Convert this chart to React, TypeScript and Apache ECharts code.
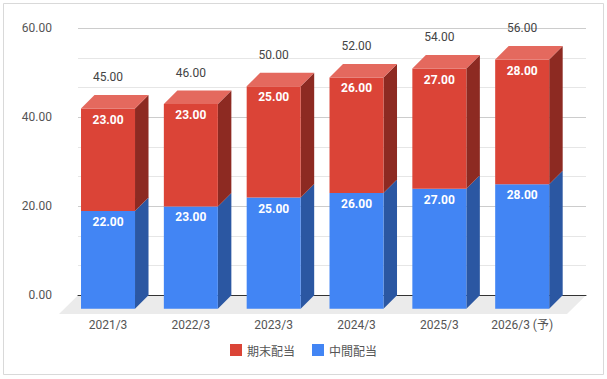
import React, { useEffect, useRef } from "react";
import * as echarts from "echarts";

const categories = ["2021/3", "2022/3", "2023/3", "2024/3", "2025/3", "2026/3 (予)"];
const interim = [22, 23, 25, 26, 27, 28]; // 中間配当
const yearEnd = [23, 23, 25, 26, 27, 28]; // 期末配当
const totals = [45, 46, 50, 52, 54, 56];
const yTicks = [0, 20, 40, 60];

const D = 13.5; // 3D depth offset
const BAR_RATIO = 0.652;

function makeRender(colors: { front: string; side: string; top: string }, showTop: boolean, showTotal: boolean) {
  return (params: any, api: any) => {
    const i = api.value(0);
    const lo = api.value(1);
    const hi = api.value(2);
    const pLo = api.coord([i, lo]);
    const pHi = api.coord([i, hi]);
    const band = api.size([1, 0])[0];
    const w = band * BAR_RATIO;
    const x = pLo[0] - w / 2;
    const yb = pLo[1];
    const yt = pHi[1];
    const children: any[] = [
      {
        type: "polygon",
        shape: { points: [[x + w, yt], [x + w + D, yt - D], [x + w + D, yb - D], [x + w, yb]] },
        style: { fill: colors.side },
      },
      {
        type: "rect",
        shape: { x, y: yt, width: w, height: yb - yt },
        style: { fill: colors.front },
      },
    ];
    if (showTop) {
      children.push({
        type: "polygon",
        shape: { points: [[x, yt], [x + w, yt], [x + w + D, yt - D], [x + D, yt - D]] },
        style: { fill: colors.top },
      });
    }
    children.push({
      type: "text",
      style: {
        text: (hi - lo).toFixed(2),
        x: pLo[0],
        y: yt + 11,
        align: "center",
        verticalAlign: "middle",
        fill: "#ffffff",
        font: "bold 12px Roboto",
      },
    });
    if (showTotal) {
      children.push({
        type: "text",
        style: {
          text: api.value(3).toFixed(2),
          x: pLo[0],
          y: yt - 31.5,
          align: "center",
          verticalAlign: "middle",
          fill: "#444444",
          font: "12px Roboto",
        },
      });
    }
    return { type: "group", children };
  };
}

export default function App() {
  const ref = useRef<HTMLDivElement>(null);
  useEffect(() => {
    const chart = echarts.init(ref.current!, null, { renderer: "svg" });
    const blueData = categories.map((_, i) => [i, 0, interim[i]]);
    const redData = categories.map((_, i) => [i, interim[i], interim[i] + yearEnd[i], totals[i]]);
    chart.setOption({
      animation: false,
      backgroundColor: "#ffffff",
      textStyle: { fontFamily: "Roboto" },
      grid: [
        { left: 78, right: 21, top: 28.3, bottom: 83.7 },
        { left: 66.6, right: 43.4, top: 41.8, bottom: 70.2 },
      ],
      graphic: [
        {
          type: "rect",
          shape: { x: 3.5, y: 3.5, width: 600, height: 371 },
          style: { fill: "none", stroke: "#d9d9d9", lineWidth: 1 },
          z: 0,
        },
        {
          type: "polygon",
          shape: { points: [[78, 295.3], [586, 295.3], [567, 314], [59, 314]] },
          style: { fill: "#ebebeb" },
          z: 0,
          silent: true,
        },
      ],
      legend: {
        data: [
          { name: "期末配当", icon: "rect" },
          { name: "中間配当", icon: "rect" },
        ],
        left: "center",
        top: 339,
        itemWidth: 12,
        itemHeight: 12,
        itemGap: 17,
        textStyle: { color: "#555555", fontSize: 12, fontFamily: "Noto Sans CJK JP" },
      },
      xAxis: [
        {
          gridIndex: 0,
          type: "value",
          min: 0,
          max: 1,
          axisLine: { show: true, onZero: false, lineStyle: { color: "#333333", width: 1 } },
          axisTick: { show: false },
          axisLabel: { show: false },
          splitLine: { show: false },
          z: 3,
        },
        {
          gridIndex: 1,
          type: "category",
          data: categories,
          axisLine: { show: false },
          axisTick: { show: false },
          axisLabel: {
            color: "#555555",
            fontSize: 12,
            margin: 10,
            fontFamily: "Roboto, 'Noto Sans CJK JP'",
          },
        },
      ],
      yAxis: [
        {
          gridIndex: 0,
          type: "value",
          min: yTicks[0],
          max: yTicks[yTicks.length - 1],
          interval: yTicks[1] - yTicks[0],
          axisLine: { show: false },
          axisTick: { show: false },
          axisLabel: {
            formatter: (v: number) => v.toFixed(2),
            color: "#555555",
            fontSize: 12,
            margin: 26,
          },
          splitLine: { show: true, lineStyle: { color: "#cccccc", width: 1 } },
          minorTick: { show: false, splitNumber: 3 },
          minorSplitLine: { show: true, lineStyle: { color: "#e6e6e6", width: 1 } },
        },
        {
          gridIndex: 1,
          type: "value",
          min: yTicks[0],
          max: yTicks[yTicks.length - 1],
          interval: yTicks[1] - yTicks[0],
          show: false,
          splitLine: { show: false },
        },
      ],
      series: [
        {
          name: "中間配当",
          type: "custom",
          xAxisIndex: 1,
          yAxisIndex: 1,
          itemStyle: { color: "#4285f4" },
          renderItem: makeRender({ front: "#4285f4", side: "#2b57a2", top: "#6aa0f7" }, false, false),
          encode: { x: 0, y: [1, 2] },
          data: blueData,
          z: 10,
        },
        {
          name: "期末配当",
          type: "custom",
          xAxisIndex: 1,
          yAxisIndex: 1,
          itemStyle: { color: "#db4437" },
          renderItem: makeRender({ front: "#db4437", side: "#8d2a22", top: "#e4695e" }, true, true),
          encode: { x: 0, y: [1, 2] },
          data: redData,
          z: 11,
        },
      ],
    });
    return () => chart.dispose();
  }, []);
  return (
    <div
      ref={ref}
      style={{ position: "fixed", left: 0, top: 0, width: 607, height: 379 }}
    />
  );
}
